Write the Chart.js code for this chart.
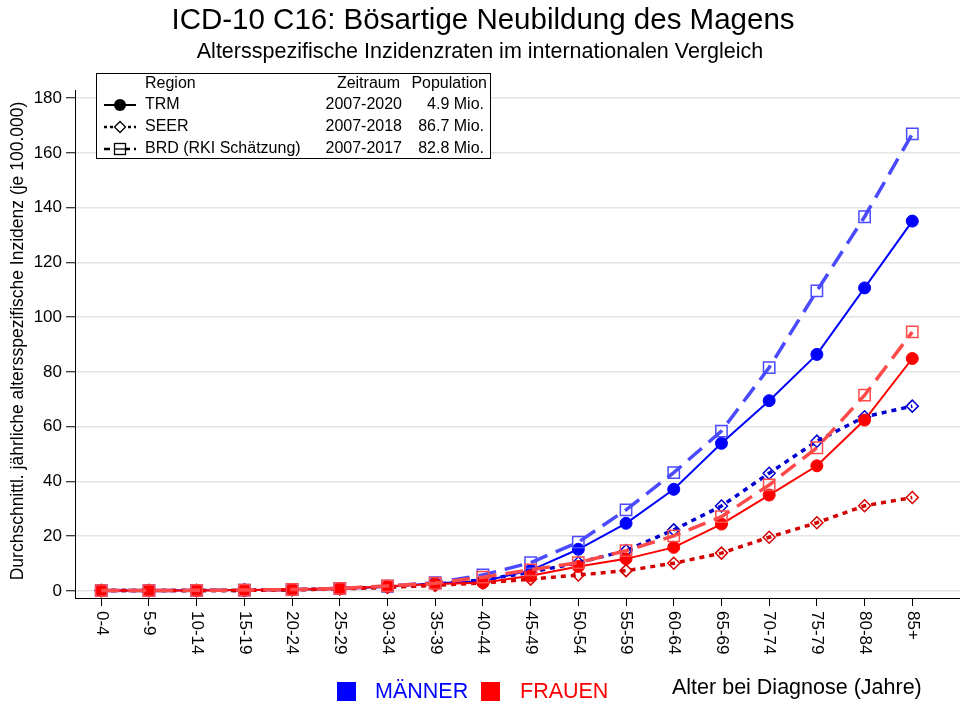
<!DOCTYPE html>
<html>
<head>
<meta charset="utf-8">
<script src="https://cdn.jsdelivr.net/npm/chart.js@4"></script>
<style>
html,body{margin:0;padding:0;background:#fff;overflow:hidden;}
#wrap{width:960px;height:707px;position:relative;}
canvas{display:block;}
</style>
</head>
<body>
<div id="wrap"><canvas id="c" width="960" height="707"></canvas></div>
<script>
const ageGroups = ['0-4','5-9','10-14','15-19','20-24','25-29','30-34','35-39','40-44','45-49','50-54','55-59','60-64','65-69','70-74','75-79','80-84','85+'];
const yTicks = [0,20,40,60,80,100,120,140,160,180];

const trmMen    = [0.1,0.1,0.2,0.3,0.4,0.8,1.5,2.8,3.5,7.5,15.2,24.7,37.1,53.9,69.5,86.4,110.7,135.1];
const seerMen   = [0.1,0.1,0.1,0.2,0.4,0.8,1.4,2.4,4.0,6.8,10.3,14.7,22.3,31.0,43.0,54.7,63.6,67.5];
const brdMen    = [0.1,0.1,0.2,0.3,0.5,0.9,1.7,3.0,5.8,10.3,17.8,29.6,43.2,58.4,81.6,109.6,136.7,167.0];
const trmWomen  = [0.1,0.1,0.1,0.3,0.5,0.8,1.7,2.5,3.0,5.5,8.9,11.7,15.9,24.4,35.0,45.7,62.4,84.9];
const seerWomen = [0.1,0.1,0.1,0.2,0.4,0.7,1.3,2.0,2.9,4.3,5.8,7.4,10.1,13.8,19.6,24.9,31.1,34.1];
const brdWomen  = [0.1,0.1,0.2,0.3,0.5,0.9,1.8,2.8,5.0,7.7,10.3,14.7,20.1,27.1,38.7,52.3,71.5,94.6];

const legendRows = [
  ['TRM','2007-2020','4.9 Mio.'],
  ['SEER','2007-2018','86.7 Mio.'],
  ['BRD (RKI Schätzung)','2007-2017','82.8 Mio.']
];

const FONT = '"Liberation Sans", Arial, sans-serif';

function pts(arr){ return arr.map((v,i)=>({x:i,y:v})); }

const styles = {
  trm:  {borderWidth:2, borderDash:[], pointStyle:'circle', pointRadius:6, filled:true},
  seer: {borderWidth:3.5, borderDash:[5,5], pointStyle:'rectRot', pointRadius:6, filled:false},
  brd:  {borderWidth:3.5, borderDash:[18,9], pointStyle:'rect', pointRadius:8, filled:false}
};
function ds(label, data, color, st){
  const s = styles[st];
  return {
    label, data: pts(data), borderColor: color, backgroundColor: s.filled ? color : 'rgba(0,0,0,0)',
    borderWidth: s.borderWidth, borderDash: s.borderDash, pointStyle: s.pointStyle,
    pointRadius: s.pointRadius, pointBorderWidth: s.filled ? 1 : 1.5, pointBorderColor: color,
    pointBackgroundColor: s.filled ? color : 'rgba(0,0,0,0)', tension: 0, fill: false
  };
}

const datasets = [
  ds('BRD Frauen', brdWomen, '#ff4a4a', 'brd'),
  ds('TRM Frauen', trmWomen, '#ff0000', 'trm'),
  ds('SEER Frauen', seerWomen, '#d40000', 'seer'),
  ds('BRD Männer', brdMen, '#4a4aff', 'brd'),
  ds('TRM Männer', trmMen, '#0000ff', 'trm'),
  ds('SEER Männer', seerMen, '#0000d0', 'seer')
];

const deco = {
  id: 'deco',
  afterDraw(chart){
    const ctx = chart.ctx;
    const xs = chart.scales.x;
    ctx.save();
    ctx.fillStyle = '#000';
    // titles
    ctx.textAlign = 'center';
    ctx.textBaseline = 'middle';
    ctx.font = '29.5px ' + FONT;
    ctx.fillText('ICD-10 C16: Bösartige Neubildung des Magens', 483, 21);
    ctx.font = '21.5px ' + FONT;
    ctx.fillText('Altersspezifische Inzidenzraten im internationalen Vergleich', 480, 52);
    // y title
    ctx.save();
    ctx.translate(18, 341);
    ctx.rotate(-Math.PI/2);
    ctx.font = '17.5px ' + FONT;
    ctx.fillText('Durchschnittl. jährliche altersspezifische Inzidenz (je 100.000)', 0, 0);
    ctx.restore();
    // x labels rotated clockwise
    ctx.font = '17px ' + FONT;
    ctx.textAlign = 'left';
    ageGroups.forEach((lab,i)=>{
      const x = xs.getPixelForValue(i);
      ctx.save();
      ctx.translate(x, 611);
      ctx.rotate(Math.PI/2);
      ctx.fillText(lab, 0, 0);
      ctx.restore();
    });
    // legend box
    ctx.fillStyle = '#fff';
    ctx.fillRect(96, 73, 394, 85);
    ctx.strokeStyle = '#000';
    ctx.lineWidth = 1;
    ctx.setLineDash([]);
    ctx.strokeRect(96.5, 73.5, 394, 85);
    ctx.fillStyle = '#000';
    ctx.font = '16px ' + FONT;
    ctx.textBaseline = 'middle';
    ctx.textAlign = 'left';
    ctx.fillText('Region', 145, 84);
    ctx.textAlign = 'right';
    ctx.fillText('Zeitraum', 400, 84);
    ctx.fillText('Population', 487, 84);
    const rowY = [105, 127, 149];
    const keys = ['trm','seer','brd'];
    legendRows.forEach((r,k)=>{
      const y = rowY[k];
      ctx.strokeStyle = '#000';
      ctx.lineWidth = keys[k]==='trm' ? 2 : 2.5;
      ctx.setLineDash(keys[k]==='seer' ? [3,3] : (keys[k]==='brd' ? [6,4] : []));
      ctx.beginPath(); ctx.moveTo(104, y); ctx.lineTo(136, y); ctx.stroke();
      ctx.setLineDash([]);
      ctx.lineWidth = 1.3;
      if (keys[k]==='trm'){
        ctx.beginPath(); ctx.arc(120, y, 6, 0, Math.PI*2); ctx.fillStyle='#000'; ctx.fill();
      } else if (keys[k]==='seer'){
        ctx.fillStyle='#fff';
        ctx.beginPath(); ctx.moveTo(120, y-5.5); ctx.lineTo(125.5, y); ctx.lineTo(120, y+5.5); ctx.lineTo(114.5, y); ctx.closePath(); ctx.fill(); ctx.stroke();
      } else {
        ctx.fillStyle='#fff';
        ctx.fillRect(114.5, y-5.5, 11, 11); ctx.strokeRect(114.5, y-5.5, 11, 11);
        ctx.beginPath(); ctx.moveTo(114.5,y); ctx.lineTo(125.5,y); ctx.stroke();
      }
      ctx.fillStyle = '#000';
      ctx.textAlign = 'left';
      ctx.fillText(r[0], 145, y);
      ctx.textAlign = 'right';
      ctx.fillText(r[1], 402, y);
      ctx.fillText(r[2], 484, y);
    });
    // bottom legend
    ctx.fillStyle = '#0000ff';
    ctx.fillRect(337, 682, 19, 19);
    ctx.font = '21.5px ' + FONT;
    ctx.textAlign = 'left';
    ctx.fillText('MÄNNER', 375, 692);
    ctx.fillStyle = '#ff0000';
    ctx.fillRect(481, 682, 19, 19);
    ctx.fillText('FRAUEN', 520, 692);
    ctx.fillStyle = '#000';
    ctx.fillText('Alter bei Diagnose (Jahre)', 672, 688);
    ctx.restore();
  }
};

new Chart(document.getElementById('c'), {
  type: 'line',
  data: { datasets },
  options: {
    responsive: false,
    animation: false,
    devicePixelRatio: 1,
    layout: { autoPadding: false, padding: { top: 90, right: 0, left: 0, bottom: 0 } },
    plugins: { legend: { display: false }, tooltip: { enabled: false }, title: { display: false } },
    scales: {
      x: {
        type: 'linear', min: -0.55, max: 18.0,
        afterBuildTicks(s){ s.ticks = ageGroups.map((_,i)=>({value:i})); },
        afterFit(s){ s.height = 109; },
        ticks: { display: false },
        grid: { display: true, drawOnChartArea: false, drawTicks: true, tickLength: 8, tickColor: '#000', tickWidth: 1 },
        border: { display: true, color: '#000', width: 1 }
      },
      y: {
        type: 'linear', min: -2.6, max: 183,
        afterBuildTicks(s){ s.ticks = yTicks.map(v=>({value:v})); },
        afterFit(s){ s.width = 75; },
        ticks: { color: '#000', font: { family: FONT, size: 17 }, padding: 4 },
        grid: { color: '#e4e4e4', lineWidth: 1.5, drawTicks: true, tickLength: 9, tickColor: '#000', tickWidth: 1 },
        border: { display: true, color: '#000', width: 1 }
      }
    }
  },
  plugins: [deco]
});
</script>
</body>
</html>
